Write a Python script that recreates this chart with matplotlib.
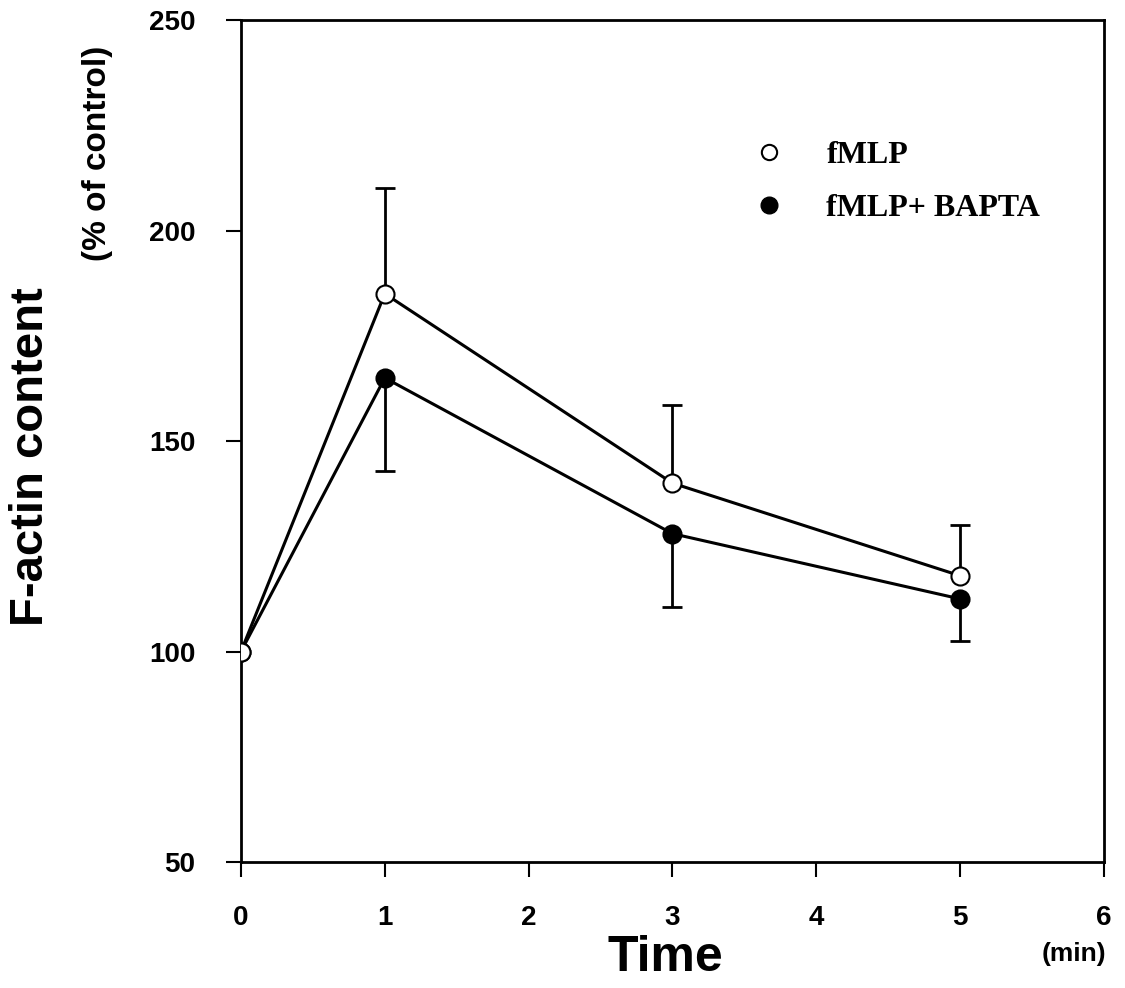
import matplotlib
matplotlib.use("Agg")
import matplotlib.pyplot as plt
from matplotlib.lines import Line2D

time = [0, 1, 3, 5]
fmlp = [100, 185, 140, 118]
fmlp_err_up = [0, 25, 18.5, 12]
bapta = [100, 165, 128, 112.5]
bapta_err_down = [0, 22, 17.5, 10]

xticks = [0, 1, 2, 3, 4, 5, 6]
yticks = [50, 100, 150, 200, 250]

plt.rcParams['font.family'] = ['Liberation Sans', 'DejaVu Sans']

fig = plt.figure(figsize=(11.25, 9.88), dpi=100)
ax = fig.add_axes([0.2142, 0.1275, 0.7671, 0.8522])

# one-sided error bars: fMLP up, BAPTA down (none at t=0)
tops = [y + e for y, e in zip(fmlp, fmlp_err_up)]
bots = [y - e for y, e in zip(bapta, bapta_err_down)]
ax.vlines(time[1:], fmlp[1:], tops[1:], color='black', lw=2, zorder=1)
ax.plot(time[1:], tops[1:], ls='none', marker='_', ms=14, mew=2, color='black', zorder=1)
ax.vlines(time[1:], bots[1:], bapta[1:], color='black', lw=2, zorder=1)
ax.plot(time[1:], bots[1:], ls='none', marker='_', ms=14, mew=2, color='black', zorder=1)

ax.plot(time, fmlp, color='black', lw=2.2, zorder=2)
ax.plot(time, bapta, color='black', lw=2.2, zorder=2)
ax.plot(time, bapta, 'o', ms=13, mfc='black', mec='black', mew=1.5, zorder=3)
ax.plot(time, fmlp, 'o', ms=13, mfc='white', mec='black', mew=1.5, zorder=4)

ax.set_xlim(0, 6)
ax.set_ylim(50, 250)
ax.set_xticks(xticks)
ax.set_yticks(yticks)
ax.tick_params(direction='out', length=11, width=1.5, labelsize=20)
ax.tick_params(axis='x', pad=20)
ax.tick_params(axis='y', pad=22)
for lab in ax.get_xticklabels() + ax.get_yticklabels():
    lab.set_fontweight('bold')
for sp in ax.spines.values():
    sp.set_linewidth(2)

fig.text(0.028, 0.538, 'F-actin content', rotation=90, fontsize=34,
         fontweight='bold', ha='center', va='center')
fig.text(0.087, 0.845, '(% of control)', rotation=90, fontsize=24,
         fontweight='bold', ha='center', va='center')
fig.text(0.591, 0.03, 'Time', fontsize=36, fontweight='bold',
         ha='center', va='center')
fig.text(0.955, 0.034, '(min)', fontsize=19, fontweight='bold',
         ha='center', va='center')

handles = [
    Line2D([], [], marker='o', ls='none', ms=11, mfc='white', mec='black', mew=1.5),
    Line2D([], [], marker='o', ls='none', ms=12, mfc='black', mec='black'),
]
ax.legend(handles, ['fMLP', 'fMLP+ BAPTA'], loc='upper left',
          bbox_to_anchor=(0.56, 0.872), frameon=False, handletextpad=0.8,
          labelspacing=0.75, borderaxespad=0,
          prop={'family': 'Liberation Serif', 'weight': 'bold', 'size': 23})

fig.savefig('out.png', dpi=100)
